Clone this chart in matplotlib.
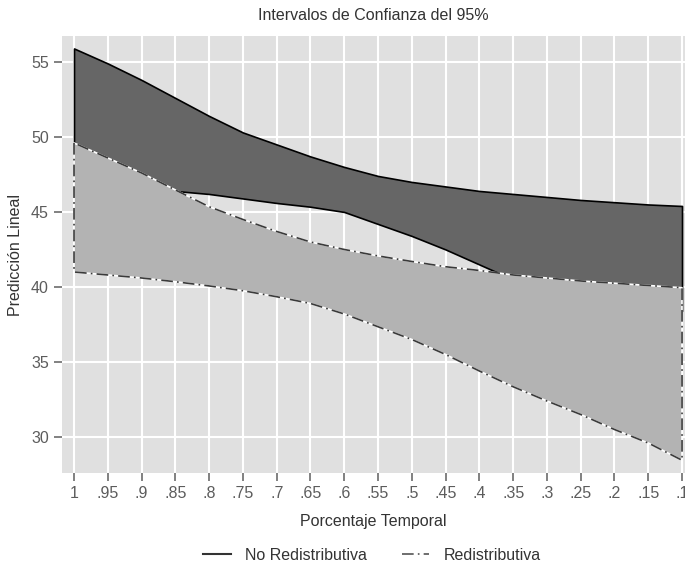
import numpy as np
import matplotlib
matplotlib.use("Agg")
import matplotlib.pyplot as plt
from matplotlib.lines import Line2D

plt.rcParams['font.family'] = ['Liberation Sans', 'DejaVu Sans']

# porcentaje temporal
x = [1, .95, .9, .85, .8, .75, .7, .65, .6, .55, .5, .45, .4, .35, .3, .25, .2, .15, .1]
xlabels = ['1', '.95', '.9', '.85', '.8', '.75', '.7', '.65', '.6', '.55', '.5',
           '.45', '.4', '.35', '.3', '.25', '.2', '.15', '.1']

# No Redistributiva (IC 95%)
nr_hi = [55.9, 54.9, 53.8, 52.6, 51.4, 50.3, 49.5, 48.7, 48.0, 47.4, 47.0,
         46.7, 46.4, 46.2, 46.0, 45.8, 45.65, 45.5, 45.4]
nr_lo = [47.0, 46.8, 46.6, 46.4, 46.2, 45.9, 45.6, 45.35, 45.0, 44.2, 43.4,
         42.5, 41.5, 40.5, 40.0, 39.6, 39.2, 38.8, 38.4]

# Redistributiva (IC 95%)
r_hi = [49.6, 48.6, 47.6, 46.47, 45.35, 44.5, 43.7, 43.0, 42.5, 42.07, 41.7,
        41.35, 41.1, 40.8, 40.6, 40.4, 40.25, 40.1, 39.95]
r_lo = [41.0, 40.8, 40.6, 40.35, 40.07, 39.75, 39.35, 38.9, 38.2, 37.35, 36.5,
        35.5, 34.4, 33.35, 32.4, 31.5, 30.5, 29.6, 28.45]

yticks = [30, 35, 40, 45, 50, 55]

txt = '#5c5c5c'
fs = 11.5
dashdot = (0, (7, 2.5, 1, 2.5))

fig = plt.figure(figsize=(6.85, 5.64), dpi=100)
ax = fig.add_axes([62/685, 1-473/564, 623/685, 437/564])
ax.set_facecolor('#e0e0e0')

ax.grid(True, color='white', linewidth=1.5)
ax.set_axisbelow(True)

# dark band
ax.fill_between(x, nr_lo, nr_hi, facecolor='#666666', edgecolor='black',
                linewidth=1.2, zorder=2)
# light band
ax.fill_between(x, r_lo, r_hi, facecolor='#b3b3b3', edgecolor='none', zorder=3)
ax.fill_between(x, r_lo, r_hi, facecolor='none', edgecolor='white',
                linewidth=1.2, zorder=4)
ax.fill_between(x, r_lo, r_hi, facecolor='none', edgecolor='#3a3a3a',
                linewidth=1.2, linestyle=dashdot, zorder=5)

ax.set_xlim(1.0178, 0.0956)
ax.set_ylim(27.6, 56.73)
ax.set_xticks(x)
ax.set_xticklabels(xlabels)
ax.set_yticks(yticks)
for s in ax.spines.values():
    s.set_visible(False)
ax.tick_params(axis='both', length=6, width=1.3, color='#777777',
               labelcolor=txt, labelsize=fs, pad=3.5)

ax.set_xlabel('Porcentaje Temporal', fontsize=fs, color='#333333', labelpad=9)
ax.set_ylabel('Predicción Lineal', fontsize=fs, color='#333333', labelpad=6)
fig.text(373/685, 1-15/564, 'Intervalos de Confianza del 95%', ha='center',
         va='center', fontsize=fs, color='#333333')

handles = [Line2D([], [], color='#333333', linewidth=1.5),
           Line2D([], [], color='#555555', linewidth=1.2, linestyle=dashdot)]
fig.legend(handles, ['No Redistributiva', 'Redistributiva'], loc='center',
           bbox_to_anchor=(372/685, 1-555/564), ncol=2, frameon=False,
           fontsize=fs, labelcolor='#333333', handlelength=1.7,
           handletextpad=0.9, columnspacing=2.2)

fig.savefig('out.png', dpi=100)
